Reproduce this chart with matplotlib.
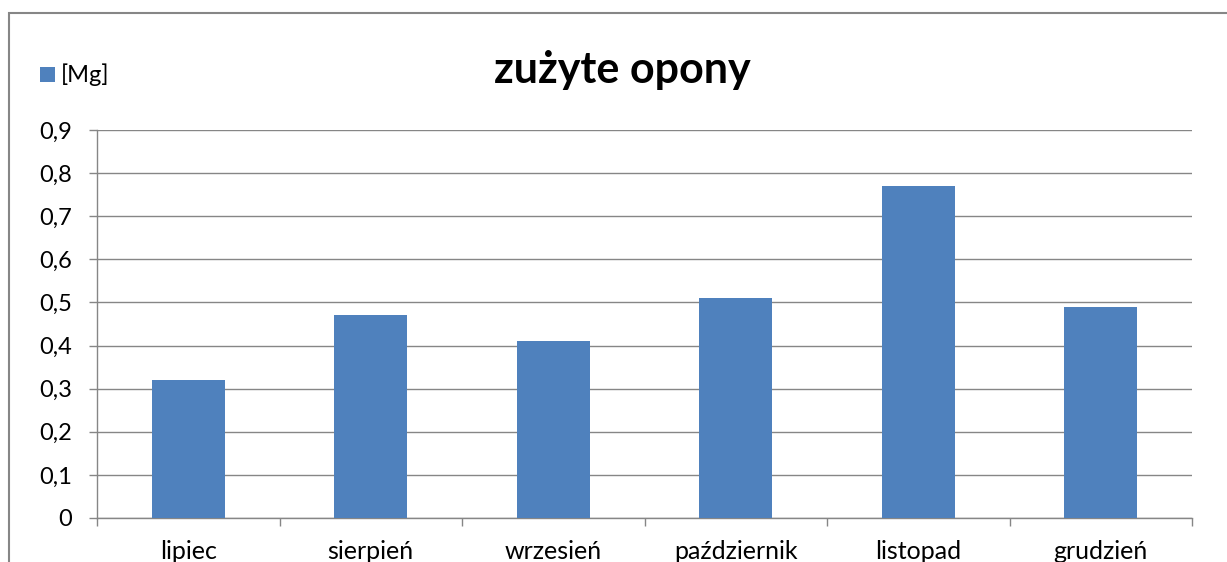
import matplotlib
matplotlib.use("Agg")
import matplotlib.pyplot as plt
from matplotlib.patches import Rectangle
from matplotlib.ticker import MultipleLocator, FuncFormatter

categories = ["lipiec", "sierpień", "wrzesień", "październik", "listopad", "grudzień"]
values = [0.32, 0.47, 0.41, 0.51, 0.77, 0.49]
series_name = "[Mg]"
title = "zużyte opony"

plt.rcParams['font.family'] = ['Lato', 'DejaVu Sans']
W, H = 1227, 562
fig = plt.figure(figsize=(W / 100, H / 100), dpi=100)
ax = fig.add_axes([97 / W, 1 - 518 / H, (1192 - 97) / W, (518 - 130) / H])

bar_color = "#4F81BD"
grid_color = "#868686"
x = list(range(len(categories)))
ax.bar(x, values, width=0.4, color=bar_color, zorder=3)

ax.set_xlim(-0.5, len(categories) - 0.5)
ax.set_ylim(0, 0.9)
ax.yaxis.set_major_locator(MultipleLocator(0.1))
ax.yaxis.set_major_formatter(FuncFormatter(lambda v, p: ("%.1f" % v).replace(".", ",") if v > 1e-9 else "0"))
ax.grid(axis="y", color=grid_color, linewidth=1.0, zorder=0)

ax.set_xticks(x)
ax.set_xticklabels(categories)
ax.set_xticks([i - 0.5 for i in range(len(categories) + 1)], minor=True)
ax.tick_params(axis="x", which="major", length=0, pad=16, labelsize=18, labelcolor="#000000")
ax.tick_params(axis="x", which="minor", length=6, color=grid_color, width=1.0)
ax.tick_params(axis="y", which="major", length=6, color=grid_color, width=1.0, pad=12, labelsize=17)

for s in ["top", "right"]:
    ax.spines[s].set_visible(False)
for s in ["left", "bottom"]:
    ax.spines[s].set_color(grid_color)
    ax.spines[s].set_linewidth(1.0)

fig.text(622 / W, 1 - 70 / H, title, ha="center", va="center", fontsize=31, fontweight="bold")

# legend
fig.patches.append(Rectangle((40 / W, 1 - 82 / H), 15 / W, 15 / H, transform=fig.transFigure,
                             facecolor=bar_color, edgecolor="none"))
fig.text(61 / W, 1 - 75 / H, series_name, ha="left", va="center", fontsize=17)

# outer border
fig.patches.append(Rectangle((9 / W, -0.2), 1.2, 1.2 - 13 / H, transform=fig.transFigure,
                             facecolor="none", edgecolor="#868686", linewidth=1.5, clip_on=False))

fig.savefig("out.png", dpi=100)
